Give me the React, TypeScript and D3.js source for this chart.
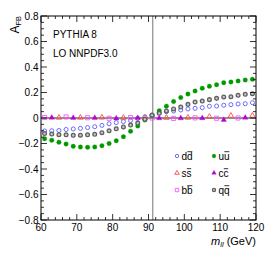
import React from 'react';
import * as d3 from 'd3';

// dilepton mass bins (GeV)
const MASS = [61, 63, 65, 67, 69, 71, 73, 75, 77, 79, 81, 83, 85, 87, 89, 91, 93, 95, 97, 99, 101, 103, 105, 107, 109, 111, 113, 115, 117, 119];
const DD = [-0.102, -0.1, -0.098, -0.09, -0.086, -0.081, -0.075, -0.068, -0.058, -0.045, -0.036, -0.028, -0.02, -0.003, 0.01, 0.024, 0.042, 0.05, 0.055, 0.063, 0.071, 0.076, 0.081, 0.092, 0.094, 0.1, 0.105, 0.11, 0.112, 0.12];
const UU = [-0.162, -0.175, -0.19, -0.204, -0.222, -0.227, -0.23, -0.227, -0.217, -0.2, -0.178, -0.147, -0.104, -0.063, -0.016, 0.02, 0.056, 0.093, 0.13, 0.16, 0.188, 0.212, 0.233, 0.249, 0.261, 0.277, 0.282, 0.29, 0.298, 0.304];
const QQ = [-0.122, -0.126, -0.131, -0.132, -0.136, -0.135, -0.132, -0.128, -0.115, -0.1, -0.085, -0.07, -0.055, -0.04, -0.01, 0.022, 0.037, 0.055, 0.071, 0.086, 0.107, 0.125, 0.133, 0.144, 0.154, 0.165, 0.167, 0.178, 0.186, 0.191];

// the light quarks sit on top of each other near zero, only every third shows
const MASS_BB = [61, 67, 73, 79, 85, 91, 97, 103, 109, 115];
const BB = [0.004, 0.008, 0.002, -0.002, 0.003, 0.0, -0.003, 0.001, -0.002, 0.0];
const MASS_CC = [63, 69, 75, 81, 87, 93, 99, 105, 111, 117];
const CC = [0.002, 0.0, 0.001, -0.003, 0.0, -0.002, -0.002, -0.001, -0.015, 0.002];
const MASS_SS = [65, 71, 77, 83, 89, 95, 101, 107, 113, 119];
const SS = [0.003, 0.003, 0.004, 0.002, 0.0, 0.002, 0.003, 0.01, 0.018, 0.018];

const X_DOMAIN = [60, 120];
const Y_DOMAIN = [-0.8, 0.8];
const MZ = 91.19;

const W = 266, H = 255;
const margin = { top: 16, right: 10, bottom: 35, left: 41 };
const FONT = "'Liberation Sans', Arial, Helvetica, sans-serif";

type Kind = 'circleOpen' | 'circleFilled' | 'triOpen' | 'triFilled' | 'squareOpen' | 'qq';

const symbolPath = (kind: Kind, s: number) => {
  if (kind === 'triOpen' || kind === 'triFilled') return d3.symbol().type(d3.symbolTriangle).size(13 * s)()!;
  if (kind === 'squareOpen') return d3.symbol().type(d3.symbolSquare).size(17 * s)()!;
  if (kind === 'circleFilled') return d3.symbol().type(d3.symbolCircle).size(16 * s)()!;
  if (kind === 'qq') return d3.symbol().type(d3.symbolCircle).size(11 * s)()!;
  return d3.symbol().type(d3.symbolCircle).size(13 * s)()!;
};

function Marker({ kind, color, cx, cy, s = 1 }: { kind: Kind; color: string; cx: number; cy: number; s?: number }) {
  const filled = kind === 'circleFilled' || kind === 'triFilled';
  return (
    <path
      d={symbolPath(kind, s)}
      transform={`translate(${cx},${cy})`}
      fill={filled ? color : kind === 'qq' ? '#c8c8c8' : 'none'}
      stroke={color}
      strokeWidth={kind === 'qq' ? 1.3 : filled ? 0.3 : 0.9}
    />
  );
}

const series: { name: string; kind: Kind; color: string; xs: number[]; ys: number[] }[] = [
  { name: 'dd', kind: 'circleOpen', color: '#5a5aff', xs: MASS, ys: DD },
  { name: 'uu', kind: 'circleFilled', color: '#009a00', xs: MASS, ys: UU },
  { name: 'ss', kind: 'triOpen', color: '#ff4c4c', xs: MASS_SS, ys: SS },
  { name: 'cc', kind: 'triFilled', color: '#b800d8', xs: MASS_CC, ys: CC },
  { name: 'bb', kind: 'squareOpen', color: '#ff50ff', xs: MASS_BB, ys: BB },
  { name: 'qq', kind: 'qq', color: '#606060', xs: MASS, ys: QQ },
];

// legend: [series index, col, row]
const LEGEND = [[0, 0, 0], [1, 1, 0], [2, 0, 1], [3, 1, 1], [4, 0, 2], [5, 1, 2]];

export default function App() {
  const x = d3.scaleLinear().domain(X_DOMAIN).range([margin.left, W - margin.right]);
  const y = d3.scaleLinear().domain(Y_DOMAIN).range([H - margin.bottom, margin.top]);
  const [x0, x1] = x.range();
  const [y0, y1] = y.range();

  const xMajor = x.ticks(6);
  const xMinor = x.ticks(30);
  const yMajor = y.ticks(8);
  const yMinor = y.ticks(32);
  const fmt = (v: number) => (Math.abs(v) < 1e-9 ? '0' : d3.format('.1f')(v));

  const legX = [177, 214];
  const legY = [156, 173, 190];
  const fs = 10;
  const cw = 0.556 * fs; // glyph advance for d,u,b,q ; s,c are 0.5

  return (
    <svg width={W} height={H} style={{ position: 'absolute', left: 0, top: 0, background: '#fff' }} fontFamily={FONT}>
      {/* zero line and Z pole */}
      <line x1={x0} x2={x1} y1={y(0)} y2={y(0)} stroke="#222" strokeWidth={1} />
      <line x1={x(MZ)} x2={x(MZ)} y1={y1} y2={y0} stroke="#808080" strokeWidth={1.1} />

      {series.map((s) => (
        <g key={s.name}>
          {s.xs.map((m, i) => (
            <Marker key={i} kind={s.kind} color={s.color} cx={x(m)} cy={y(s.ys[i])} />
          ))}
        </g>
      ))}

      {/* frame + ticks */}
      <rect x={x0} y={y1} width={x1 - x0} height={y0 - y1} fill="none" stroke="#000" strokeWidth={1} />
      <g stroke="#000" strokeWidth={0.8}>
        {xMinor.map((t) => {
          const len = xMajor.includes(t) ? 6 : 3;
          return (
            <g key={'x' + t}>
              <line x1={x(t)} x2={x(t)} y1={y0} y2={y0 - len} />
              <line x1={x(t)} x2={x(t)} y1={y1} y2={y1 + len} />
            </g>
          );
        })}
        {yMinor.map((t) => {
          const major = yMajor.some((m) => Math.abs(m - t) < 1e-9);
          const len = major ? 6 : 3;
          return (
            <g key={'y' + t}>
              <line x1={x0} x2={x0 + len} y1={y(t)} y2={y(t)} />
              <line x1={x1} x2={x1 - len} y1={y(t)} y2={y(t)} />
            </g>
          );
        })}
      </g>

      <g fontSize={10} fill="#000">
        {xMajor.map((t) => (
          <text key={t} x={x(t)} y={230.5} textAnchor="middle">{t}</text>
        ))}
        {yMajor.map((t) => (
          <text key={t} x={38.5} y={y(t) + 3.5} textAnchor="end">{fmt(t)}</text>
        ))}
      </g>

      {/* axis titles */}
      <text x={x1} y={244.5} textAnchor="end" fontSize={11}>
        <tspan fontStyle="italic">m</tspan>
        <tspan fontStyle="italic" fontSize={7.5} dy={2}>ll</tspan>
        <tspan dy={-2}> (GeV)</tspan>
      </text>
      <text transform={`translate(18.5,${y1}) rotate(-90)`} textAnchor="end" fontSize={12}>
        <tspan>A</tspan>
        <tspan fontSize={7.5} dy={2.5}>FB</tspan>
      </text>

      <text x={53} y={37.5} fontSize={10}>PYTHIA 8</text>
      <text x={53} y={57.3} fontSize={10}>LO NNPDF3.0</text>

      {/* legend */}
      {LEGEND.map(([si, col, row]) => {
        const s = series[si];
        const q = s.name[0];
        const w = q === 's' || q === 'c' ? 0.5 * fs : cw;
        const tx = legX[col] + 4.5;
        const by = legY[row] + 3.7;
        return (
          <g key={s.name}>
            <Marker kind={s.kind} color={s.color} cx={legX[col]} cy={legY[row]} s={0.7} />
            <text x={tx} y={by} fontSize={fs}>{q + q}</text>
            <line x1={tx + w + 0.3} x2={tx + 2 * w - 0.3} y1={by - 0.8 * fs} y2={by - 0.8 * fs} stroke="#000" strokeWidth={0.8} />
          </g>
        );
      })}
    </svg>
  );
}
